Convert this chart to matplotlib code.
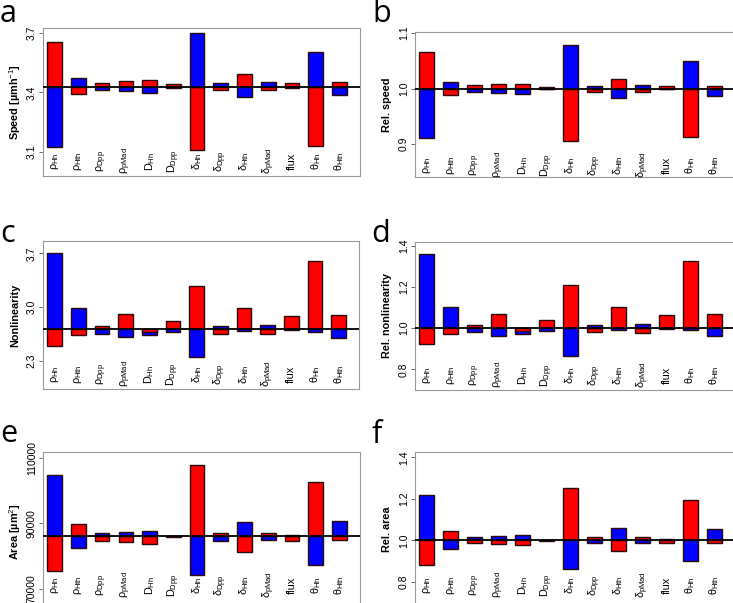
import matplotlib
matplotlib.use('Agg')
import matplotlib.pyplot as plt
from matplotlib.ticker import FixedLocator

plt.rcParams['font.family'] = ['Liberation Sans', 'DejaVu Sans']
plt.rcParams['mathtext.fontset'] = 'custom'
plt.rcParams['mathtext.rm'] = 'Liberation Sans'
plt.rcParams['mathtext.it'] = 'Liberation Sans:italic'
plt.rcParams['mathtext.bf'] = 'Liberation Sans:bold'

params = ['ρ$_{\\rm Hh}$', 'ρ$_{\\rm Hth}$', 'ρ$_{\\rm Dpp}$', 'ρ$_{\\rm pMad}$',
          'D$_{\\rm Hh}$', 'D$_{\\rm Dpp}$', 'δ$_{\\rm Hh}$', 'δ$_{\\rm Dpp}$',
          'δ$_{\\rm Hth}$', 'δ$_{\\rm pMad}$', 'flux', 'θ$_{\\rm Hh}$', 'θ$_{\\rm Hth}$']

# speed
red_a = [3.656, 3.391, 3.450, 3.460, 3.462, 3.441, 3.108, 3.413, 3.491, 3.411, 3.448, 3.128, 3.451]
blue_a = [3.125, 3.475, 3.411, 3.405, 3.398, 3.424, 3.700, 3.450, 3.377, 3.453, 3.424, 3.604, 3.385]
base_a = 3.43
# relative speed
red_b = [1.0658, 0.988, 1.006, 1.008, 1.008, 1.0024, 0.9063, 0.994, 1.0168, 0.9934, 1.0048, 0.9123, 1.0054]
blue_b = [0.9114, 1.0126, 0.994, 0.992, 0.990, 0.999, 1.0778, 1.0054, 0.9838, 1.006, 0.9988, 1.0502, 0.9868]
base_b = 1.0
# nonlinearity
red_c = [2.503, 2.645, 2.753, 2.909, 2.684, 2.823, 3.276, 2.658, 2.991, 2.650, 2.891, 3.601, 2.905]
blue_c = [3.700, 2.991, 2.654, 2.615, 2.641, 2.676, 2.356, 2.753, 2.693, 2.766, 2.700, 2.684, 2.603]
base_c = 2.72
# relative nonlinearity
red_d = [0.922, 0.973, 1.013, 1.071, 0.988, 1.039, 1.207, 0.979, 1.102, 0.976, 1.065, 1.328, 1.070]
blue_d = [1.361, 1.102, 0.979, 0.964, 0.972, 0.986, 0.867, 1.015, 0.990, 1.019, 0.995, 0.989, 0.960]
base_d = 1.0
# area
red_e = [75552, 89868, 84568, 84172, 83776, 86100, 107748, 86914, 81126, 87127, 84568, 102570, 84782]
blue_e = [104794, 82466, 87127, 87432, 87736, 85900, 74121, 84568, 90467, 84782, 86300, 77167, 90569]
base_e = 86000
# relative area
red_f = [0.881, 1.047, 0.987, 0.982, 0.978, 1.003, 1.254, 1.016, 0.947, 1.018, 0.987, 1.195, 0.987]
blue_f = [1.219, 0.960, 1.018, 1.021, 1.024, 0.997, 0.862, 0.985, 1.058, 0.987, 1.004, 0.899, 1.055]
base_f = 1.0

panels = [
    ('a', red_a, blue_a, base_a, 'Speed [µmh$^{-1}$]', [3.1, 3.4, 3.7], ['3.1', '3.4', '3.7']),
    ('b', red_b, blue_b, base_b, 'Rel. speed', [0.9, 1.0, 1.1], ['0.9', '1.0', '1.1']),
    ('c', red_c, blue_c, base_c, 'Nonlinearity', [2.3, 3.0, 3.7], ['2.3', '3.0', '3.7']),
    ('d', red_d, blue_d, base_d, 'Rel. nonlinearity', [0.8, 1.0, 1.2, 1.4], ['0.8', '1.0', '1.2', '1.4']),
    ('e', red_e, blue_e, base_e, 'Area [µm$^2$]', [70000, 90000, 110000], ['70000', '90000', '110000']),
    ('f', red_f, blue_f, base_f, 'Rel. area', [0.8, 1.0, 1.2, 1.4], ['0.8', '1.0', '1.2', '1.4']),
]

# box positions in pixels: left, right, top, bottom; and y limits
W, H = 733, 603
boxes = [(43, 360, 28, 176), (415, 735, 32, 177),
         (43, 359, 241, 389), (415, 735, 242, 390),
         (43, 360, 452, 612), (415, 735, 452, 607)]
ylims = [(2.979, 3.725), (0.841, 1.102), (1.94, 3.86), (0.70, 1.418),
         (62994, 111736), (0.678, 1.426)]
letter_pos = [(0, 22), (372, 22), (0, 242), (371, 242), (0, 442), (372, 443)]
ylabel_x = [15, 387, 15, 387, 15, 387]

fig = plt.figure(figsize=(W / 100, H / 100), dpi=100)

for k, (letter, red, blue, base, ylab, yt, ytl) in enumerate(panels):
    l, r, t, b = boxes[k]
    ax = fig.add_axes([l / W, 1 - b / H, (r - l) / W, (b - t) / H])
    x = list(range(len(params)))
    for i in x:
        bars = [(red[i], '#ff0000'), (blue[i], '#0000ff')]
        bars.sort(key=lambda v: -abs(v[0] - base))
        for val, col in bars:
            ax.bar(i, val - base, bottom=base, width=0.62, color=col,
                   edgecolor='#2a0a0a', linewidth=1.0, zorder=2)
    ax.axhline(base, color='black', linewidth=1.3, zorder=3)
    ax.set_xlim(-0.49, 12.86)
    ax.set_ylim(*ylims[k])
    ax.set_xticks([])
    ax.yaxis.set_major_locator(FixedLocator(yt))
    ax.set_yticklabels(ytl, rotation=90, va='center', fontsize=7.5)
    ax.tick_params(axis='y', length=3, width=0.6, pad=1.5, color='#555555')
    for s in ax.spines.values():
        s.set_color('#999999')
        s.set_linewidth(0.8)
    for i, name in enumerate(params):
        ax.annotate(name, xy=(i, 1), xycoords=('data', 'axes fraction'),
                    xytext=(0, -133), textcoords='offset pixels',
                    rotation=90, ha='center', va='center', fontsize=7.8)
    fig.text(ylabel_x[k] / W, 1 - (t + b) / 2 / H, ylab, rotation=90,
             ha='center', va='center', fontsize=7.8, fontweight='bold')
    lx, ly = letter_pos[k]
    fig.text(lx / W, 1 - ly / H, letter, fontsize=22, family='Open Sans',
             ha='left', va='baseline')

fig.savefig('out.png', dpi=100)
